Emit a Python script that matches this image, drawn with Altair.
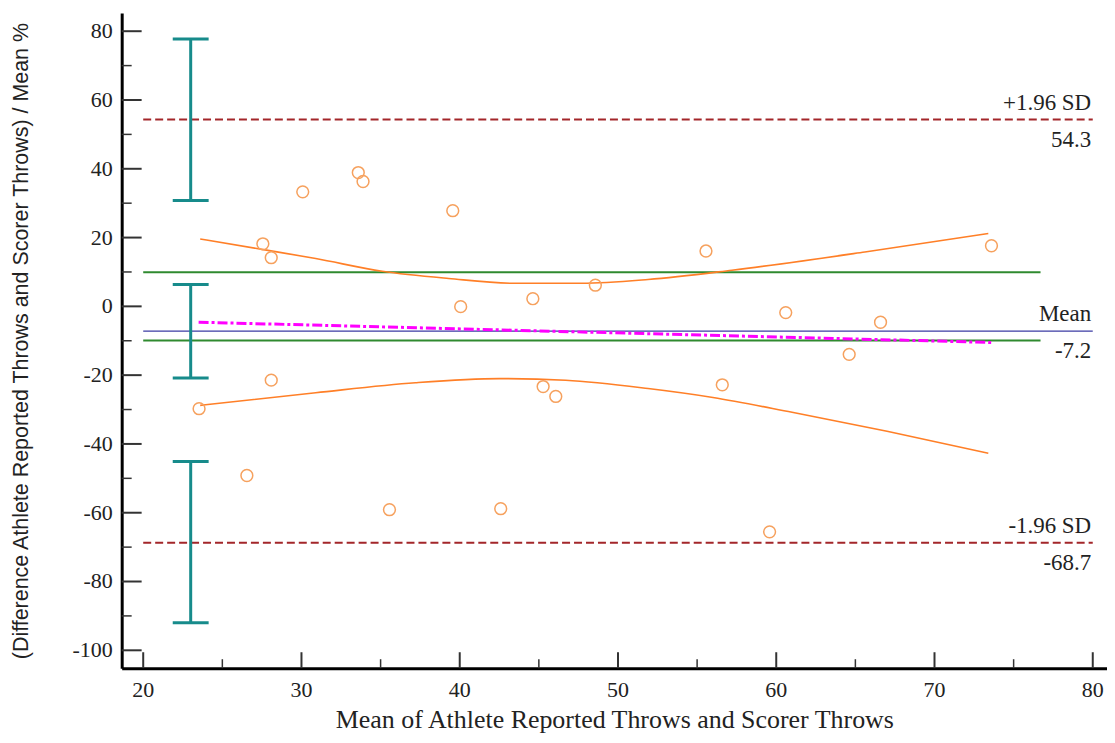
import altair as alt
import pandas as pd

# ---------------- data ----------------
mean_throws = [23.53, 26.55, 27.56, 28.09, 28.09, 30.08, 33.59, 33.89, 35.56, 39.56,
               40.06, 42.59, 44.62, 45.27, 46.07, 48.57, 55.56, 56.59, 59.58, 60.60,
               64.61, 66.59, 73.60]
diff_pct = [-29.75, -49.18, 18.19, 14.15, -21.46, 33.30, 38.90, 36.30, -59.12, 27.81,
            -0.09, -58.83, 2.22, -23.31, -26.19, 6.15, 16.09, -22.80, -65.56, -1.82,
            -13.95, -4.62, 17.62]

mean_diff = -7.2
upper_loa = 54.3
lower_loa = -68.7
green_limits = [9.9, -9.9]
line_x_start = 20
line_x_end = 80
green_x_end = 76.7

# regression line of differences on means
reg_x = [23.5, 73.6]
reg_y = [-4.6, -10.5]

# confidence curves around the regression line
upper_ci_x = [23.6, 27.6, 30.9, 35.1, 39.3, 43.5, 47.7, 51.9, 57.2, 65.6, 73.4]
upper_ci_y = [19.6, 16.5, 13.9, 10.2, 8.1, 6.7, 6.7, 7.8, 10.5, 15.8, 21.2]
lower_ci_x = [23.6, 30.9, 37.2, 42.5, 46.7, 51.9, 56.0, 61.0, 67.0, 73.4]
lower_ci_y = [-28.8, -25.1, -22.2, -21.0, -21.5, -23.9, -26.5, -30.8, -36.3, -42.7]

# confidence intervals of the limits and of the mean
ci_x = 23.0
ci_low = [30.8, -20.8, -92.0]
ci_high = [77.7, 6.35, -45.1]

# axis ticks and tick labels
x_major = [20, 30, 40, 50, 60, 70, 80]
x_minor = [25, 35, 45, 55, 65, 75]
y_major = [-100, -80, -60, -40, -20, 0, 20, 40, 60, 80]
y_minor = [-90, -70, -50, -30, -10, 10, 30, 50, 70]
x_tick_labels = ["20", "30", "40", "50", "60", "70", "80"]
y_tick_labels = ["-100", "-80", "-60", "-40", "-20", "0", "20", "40", "60", "80"]

label_above = ["+1.96 SD", "Mean", "-1.96 SD"]
label_below = ["54.3", "-7.2", "-68.7"]
label_y = [upper_loa, mean_diff, lower_loa]
label_x = 79.9

X_DOMAIN = [18.64, 80.9]
Y_DOMAIN = [-105.2, 85.3]
W, H = 988, 657

SERIF = "Liberation Serif"
SANS = "Liberation Sans"
TXT = "#222222"

x_scale = alt.Scale(domain=X_DOMAIN, nice=False, zero=False)
y_scale = alt.Scale(domain=Y_DOMAIN, nice=False, zero=False)

x_axis = alt.Axis(values=x_major, ticks=False, tickSize=0, grid=False, labels=False,
                  domainColor="black", domainWidth=3,
                  titleFont=SERIF, titleFontSize=26, titleFontWeight="normal",
                  titleColor=TXT, titlePadding=38)
y_axis = alt.Axis(values=y_major, ticks=False, tickSize=0, grid=False, labels=False,
                  domainColor="black", domainWidth=3,
                  titleFont=SANS, titleFontSize=21.5, titleFontWeight="normal",
                  titleColor=TXT, titlePadding=89)

X_TITLE = "Mean of Athlete Reported Throws and Scorer Throws"
Y_TITLE = "(Difference Athlete Reported Throws and Scorer Throws) / Mean %"


def X(field="x"):
    return alt.X(f"{field}:Q", scale=x_scale, axis=x_axis, title=X_TITLE)


def Y(field="y"):
    return alt.Y(f"{field}:Q", scale=y_scale, axis=y_axis, title=Y_TITLE)


# ---------------- tables ----------------
pts = pd.DataFrame({"x": mean_throws, "y": diff_pct})
green_df = pd.DataFrame({"x": [line_x_start] * 2, "x2": [green_x_end] * 2, "y": green_limits})
mean_df = pd.DataFrame({"x": [line_x_start], "x2": [line_x_end], "y": [mean_diff]})
loa_df = pd.DataFrame({"x": [line_x_start] * 2, "x2": [line_x_end] * 2, "y": [upper_loa, lower_loa]})
reg_df = pd.DataFrame({"x": reg_x, "y": reg_y})
up_df = pd.DataFrame({"x": upper_ci_x, "y": upper_ci_y})
lo_df = pd.DataFrame({"x": lower_ci_x, "y": lower_ci_y})
ci_df = pd.DataFrame({"x": [ci_x] * 3, "y": ci_low, "y2": ci_high})
cap_df = pd.DataFrame({"x": [ci_x] * 6, "y": ci_low + ci_high})
lab_above_df = pd.DataFrame({"x": [label_x] * 3, "y": label_y, "t": label_above})
lab_below_df = pd.DataFrame({"x": [label_x] * 3, "y": label_y, "t": label_below})
ymaj_df = pd.DataFrame({"y": y_major, "t": y_tick_labels})
ymin_df = pd.DataFrame({"y": y_minor})
xmaj_df = pd.DataFrame({"x": x_major, "t": x_tick_labels})
xmin_df = pd.DataFrame({"x": x_minor})

# ---------------- layers ----------------
green = alt.Chart(green_df).mark_rule(color="#2F8A2F", strokeWidth=2).encode(
    x=X(), x2="x2:Q", y=Y())
mean_line = alt.Chart(mean_df).mark_rule(color="#3B3BA3", strokeWidth=1.5).encode(
    x=X(), x2="x2:Q", y=Y())
loa = alt.Chart(loa_df).mark_rule(color="#A3262A", strokeWidth=2, strokeDash=[8, 4]).encode(
    x=X(), x2="x2:Q", y=Y())
up_curve = alt.Chart(up_df).mark_line(color="#FF7F27", strokeWidth=1.6, interpolate="monotone").encode(
    x=X(), y=Y())
lo_curve = alt.Chart(lo_df).mark_line(color="#FF7F27", strokeWidth=1.6, interpolate="monotone").encode(
    x=X(), y=Y())
reg = alt.Chart(reg_df).mark_line(color="#FF00FF", strokeWidth=3, strokeDash=[10, 3, 3, 3]).encode(
    x=X(), y=Y())
points = alt.Chart(pts).mark_point(shape="circle", filled=False, size=140, color="#F6A15E",
                                   strokeWidth=1.5, opacity=1).encode(x=X(), y=Y())
ci_bar = alt.Chart(ci_df).mark_rule(color="#178B8B", strokeWidth=3).encode(
    x=X(), y=Y(), y2="y2:Q")
ci_cap = alt.Chart(cap_df).mark_tick(color="#178B8B", orient="horizontal", size=36,
                                     thickness=3, opacity=1).encode(x=X(), y=Y())
txt_above = alt.Chart(lab_above_df).mark_text(font=SERIF, fontSize=23, color=TXT, align="right",
                                              baseline="alphabetic", dy=-10).encode(
    x=X(), y=Y(), text="t:N")
txt_below = alt.Chart(lab_below_df).mark_text(font=SERIF, fontSize=23, color=TXT, align="right",
                                              baseline="alphabetic", dy=27).encode(
    x=X(), y=Y(), text="t:N")

tick_col = "#333333"
ymaj = alt.Chart(ymaj_df).mark_rule(color=tick_col, strokeWidth=2).encode(
    y=Y(), x=alt.value(0), x2=alt.value(20))
ymin = alt.Chart(ymin_df).mark_rule(color=tick_col, strokeWidth=1.5).encode(
    y=Y(), x=alt.value(0), x2=alt.value(10))
xmaj = alt.Chart(xmaj_df).mark_rule(color=tick_col, strokeWidth=2).encode(
    x=X(), y=alt.value(H), y2=alt.value(H - 16))
xmin = alt.Chart(xmin_df).mark_rule(color=tick_col, strokeWidth=1.5).encode(
    x=X(), y=alt.value(H), y2=alt.value(H - 9))

ylab = alt.Chart(ymaj_df).mark_text(font=SERIF, fontSize=22, color=TXT, align="right",
                                    baseline="middle").encode(
    y=Y(), x=alt.value(-9), text="t:N")
xlab = alt.Chart(xmaj_df).mark_text(font=SERIF, fontSize=22, color=TXT, align="center",
                                    baseline="middle").encode(
    x=X(), y=alt.value(H + 22), text="t:N")

chart = alt.layer(
    green, mean_line, loa, up_curve, lo_curve, reg, points, ci_bar, ci_cap,
    txt_above, txt_below, ymaj, ymin, xmaj, xmin, ylab, xlab
).properties(
    width=W, height=H,
    autosize=alt.AutoSizeParams(type="none"),
    padding={"left": 114, "top": 4, "right": 0, "bottom": 64},
    background="white",
).configure_view(stroke=None, clip=False)

chart.save("out.html", embed_options={"renderer": "svg", "actions": False})
